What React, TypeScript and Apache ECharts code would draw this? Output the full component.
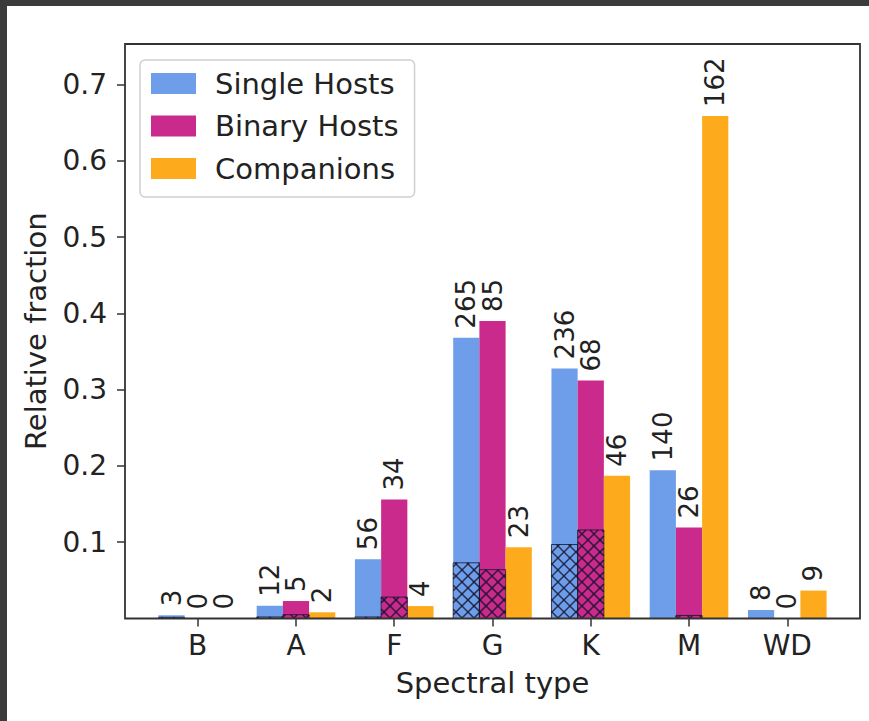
import React, { useEffect, useRef } from "react";
import * as echarts from "echarts";

const categories = ["B", "A", "F", "G", "K", "M", "WD"];
const seriesNames = ["Single Hosts", "Binary Hosts", "Companions"];
const seriesColors = ["#6e9eea", "#c92a8b", "#fdab1c"];

// relative fractions (bar heights)
const singleFrac = [0.0042, 0.0167, 0.0778, 0.3681, 0.3278, 0.1944, 0.0111];
const binaryFrac = [0.0, 0.0229, 0.156, 0.3899, 0.3119, 0.1193, 0.0];
const compFrac = [0.0, 0.0081, 0.0163, 0.0935, 0.187, 0.6585, 0.0366];

// counts shown above bars
const singleCounts = [3, 12, 56, 265, 236, 140, 8];
const binaryCounts = [0, 5, 34, 85, 68, 26, 0];
const compCounts = [0, 2, 4, 23, 46, 162, 9];

// cross-hatched lower portions
const singleHatch = [0.0015, 0.002, 0.002, 0.073, 0.097, 0.0, 0.0];
const binaryHatch = [0.0, 0.005, 0.028, 0.064, 0.116, 0.004, 0.0];

const yTicks = [0.1, 0.2, 0.3, 0.4, 0.5, 0.6, 0.7];

const FONT = "'DejaVu Sans', sans-serif";
const TXT = "#222";

export default function App() {
  const ref = useRef<HTMLDivElement>(null);
  useEffect(() => {
    if (!ref.current) return;
    const chart = echarts.init(ref.current, undefined, { renderer: "svg" });

    const fracs = [singleFrac, binaryFrac, compFrac];
    const counts = [singleCounts, binaryCounts, compCounts];

    const hatchData: number[][] = [];
    singleHatch.forEach((h, i) => hatchData.push([i, 0, h]));
    binaryHatch.forEach((h, i) => hatchData.push([i, 1, h]));

    const renderHatch = (params: any, api: any) => {
      const ci = api.value(0);
      const si = api.value(1);
      const h = api.value(2);
      if (!h) return null;
      const base = api.coord([ci, 0]);
      const top = api.coord([ci, h]);
      const band = api.size([1, 0])[0];
      const bw = (band * 0.8) / 3;
      const cx = base[0] + (si - 1) * bw;
      const L = cx - bw / 2;
      const R = cx + bw / 2;
      const T = top[1];
      const B = base[1];
      const step = 12;
      const children: any[] = [];
      const stroke = "rgba(20,20,45,0.8)";
      // y = x + c
      for (let c = Math.floor((T - R) / step) * step; c <= B - L; c += step) {
        const xs = Math.max(L, T - c);
        const xe = Math.min(R, B - c);
        if (xe > xs) {
          children.push({
            type: "line",
            shape: { x1: xs, y1: xs + c, x2: xe, y2: xe + c },
            style: { stroke, lineWidth: 1.5 },
          });
        }
      }
      // y = -x + c
      for (let c = Math.floor((L + T) / step) * step; c <= R + B; c += step) {
        const xs = Math.max(L, c - B);
        const xe = Math.min(R, c - T);
        if (xe > xs) {
          children.push({
            type: "line",
            shape: { x1: xs, y1: c - xs, x2: xe, y2: c - xe },
            style: { stroke, lineWidth: 1.5 },
          });
        }
      }
      children.push({
        type: "rect",
        shape: { x: L, y: T, width: R - L, height: B - T },
        style: { fill: "none", stroke, lineWidth: 1 },
      });
      return { type: "group", children };
    };

    const barSeries = seriesNames.map((name, s) => ({
      name,
      type: "bar",
      data: fracs[s],
      barWidth: "26.67%",
      barGap: "0%",
      itemStyle: { color: seriesColors[s] },
      label: {
        show: true,
        position: "top",
        rotate: 90,
        align: "left",
        verticalAlign: "middle",
        distance: 9,
        fontSize: 26,
        fontFamily: FONT,
        color: TXT,
        formatter: (p: any) => String(counts[s][p.dataIndex]),
      },
      z: 2,
    }));

    chart.setOption({
      animation: false,
      backgroundColor: "#ffffff",
      textStyle: { fontFamily: FONT },
      grid: { left: 148.6, right: 32.6, top: 44, bottom: 102.5, containLabel: false },
      legend: {
        data: seriesNames,
        orient: "vertical",
        left: 140,
        top: 60,
        itemWidth: 45,
        itemHeight: 21,
        itemGap: 13.5,
        padding: [9, 16, 14, 11],
        backgroundColor: "#ffffff",
        borderColor: "#d0d0d0",
        borderWidth: 1.5,
        borderRadius: 5,
        icon: "rect",
        textStyle: { fontSize: 29, color: TXT, fontFamily: FONT, padding: [0, 0, 0, 14] },
      },
      xAxis: {
        type: "category",
        data: categories,
        name: "Spectral type",
        nameLocation: "middle",
        nameGap: 50,
        nameTextStyle: { fontSize: 29, color: TXT, fontFamily: FONT },
        axisLine: { show: false },
        axisTick: { show: true, alignWithLabel: true, length: 8, lineStyle: { color: "#333", width: 1.5 } },
        axisLabel: { fontSize: 28, color: TXT, fontFamily: FONT, margin: 13 },
        splitLine: { show: false },
      },
      yAxis: {
        type: "value",
        min: 0,
        max: 0.753,
        interval: 0.1,
        offset: 23.6,
        name: "Relative fraction",
        nameLocation: "middle",
        nameGap: 75,
        nameTextStyle: { fontSize: 29, color: TXT, fontFamily: FONT },
        axisLine: { show: false },
        axisTick: {
          show: true,
          length: 8,
          lineStyle: { color: "#333", width: 1.5 },
          customValues: yTicks,
        },
        axisLabel: {
          fontSize: 28,
          color: TXT,
          fontFamily: FONT,
          margin: 18,
          customValues: yTicks,
          formatter: (v: number) => (v === 0 ? "" : v.toFixed(1)),
        },
        splitLine: { show: false },
      },
      series: [
        ...barSeries,
        {
          type: "custom",
          name: "hatch",
          renderItem: renderHatch,
          data: hatchData,
          encode: { x: 0, y: 2 },
          z: 3,
          silent: true,
        },
      ],
      graphic: [
        {
          type: "rect",
          shape: { x: 125, y: 44, width: 735, height: 574.5 },
          style: { fill: "none", stroke: "#333", lineWidth: 1.8 },
          z: 10,
          silent: true,
        },
        {
          type: "rect",
          shape: { x: 0, y: 0, width: 869, height: 6 },
          style: { fill: "#3b3b3b" },
          silent: true,
        },
        {
          type: "rect",
          shape: { x: 0, y: 0, width: 7, height: 721 },
          style: { fill: "#3b3b3b" },
          silent: true,
        },
      ],
    });
    return () => chart.dispose();
  }, []);
  return (
    <div
      ref={ref}
      style={{ position: "fixed", left: 0, top: 0, width: 869, height: 721 }}
    />
  );
}
